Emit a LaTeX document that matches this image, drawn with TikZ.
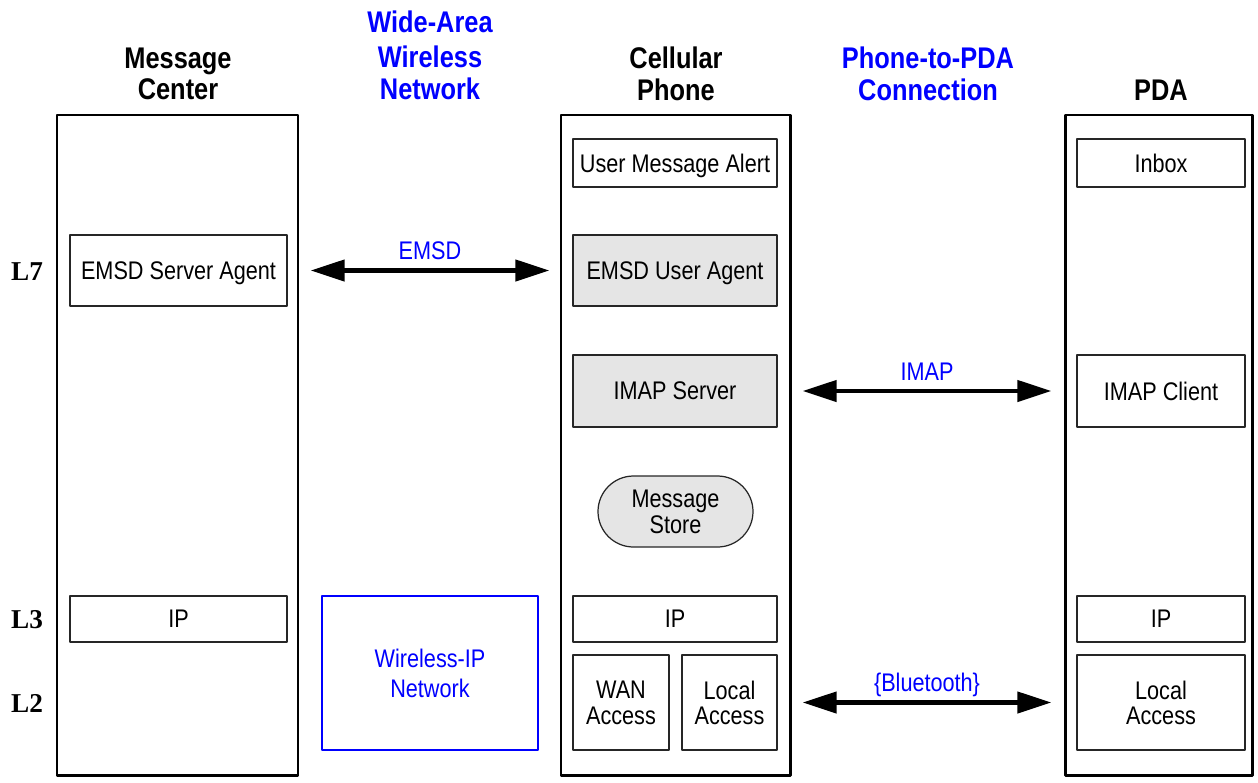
\documentclass[tikz,border=0pt]{standalone}
\usepackage{fontspec}
\setmainfont{Liberation Sans}[FakeStretch=0.85]
\newfontfamily\layerfont{Liberation Serif}
\usetikzlibrary{arrows.meta}
\definecolor{lblue}{RGB}{0,0,255}
\definecolor{lgray}{RGB}{229,229,229}
\begin{document}
\begin{tikzpicture}[x=0.02cm,y=-0.02cm,line join=round,
		font=\fontsize{14.5}{14.5}\selectfont,
		box/.style 2 args={draw=black!85,line width=0.7pt,inner sep=0pt,align=center,text depth=0pt,
			minimum width=#1*0.02cm,minimum height=#2*0.02cm},
		gbox/.style 2 args={box={#1}{#2},fill=lgray},
		station/.style={draw,line width=1.7pt},
		head/.style={font=\fontsize{17}{18}\selectfont\bfseries,align=center},
		layer/.style={font=\fontsize{15.5}{15.5}\selectfont\layerfont\bfseries},
		link/.style={{Triangle[length=6.8mm,width=4.2mm]}-{Triangle[length=6.8mm,width=4.2mm]},
			line width=2.4pt,shorten <=#1*0.02cm,shorten >=#1*0.02cm},
		lab/.style={midway,anchor=base,yshift=0.22cm,text=lblue,inner sep=0pt}]
				\useasboundingbox (0,0) rectangle (1258,782);
				% the three stations
				\draw[station]
				(57,115) rectangle (298,775)
				(561,115) rectangle (790,775)
				(1065,115) rectangle (1252,775)
				;
				\path
				(178,74) node[head] (mc) {Message\\Center}
				(430,55) node[head,text=lblue] (wawn) {Wide-Area\\[0.08cm]Wireless\\Network}
				(676,74) node[head] (cph) {Cellular\\Phone}
				(928,74) node[head,text=lblue] (ppc) {Phone-to-PDA\\Connection}
				(1161,90) node[head] (pda) {PDA}
				(27,272) node[layer] (l7) {L7}
				(27,620) node[layer] (l3) {L3}
				(27,703) node[layer] (l2) {L2}
				;
				% message center
				\path
				(178.5,270.5) node[box={217}{71}] (esa) {EMSD Server Agent}
				(178.5,619) node[box={217}{46}] (mcip) {IP}
				(430,673) node[box={216}{154},draw=lblue,text=lblue] (wip) {Wireless-IP\\[0.1cm]Network}
				;
				% cellular phone
				\path
				(675,163) node[box={204}{48}] (uma) {User Message Alert}
				(675,270.5) node[gbox={204}{71}] (eua) {EMSD User Agent}
				(675,391) node[gbox={204}{72}] (imaps) {IMAP Server}
				(675.5,511.5) node[gbox={155}{71},rounded corners=0.71cm] (store) {Message\\Store}
				(675,619) node[box={204}{46}] (pip) {IP}
				(621,702.5) node[box={96}{95}] (wan) {WAN\\Access}
				(729.5,702.5) node[box={95}{95}] (ploc) {Local\\Access}
				;
				% pda
				\path
				(1161,163) node[box={168}{48}] (inbox) {Inbox}
				(1161,391) node[box={168}{72}] (imapc) {IMAP Client}
				(1161,619) node[box={168}{46}] (dip) {IP}
				(1161,702.5) node[box={168}{95}] (dloc) {Local\\Access}
				;
				\draw[link=23] (esa)--(eua) node[lab]{EMSD};
				\draw[link=25] (imaps)--(imapc) node[lab]{IMAP};
				\draw[link=25] (ploc)--(dloc) node[lab]{\{Bluetooth\}};
		\end{tikzpicture}
\end{document}
